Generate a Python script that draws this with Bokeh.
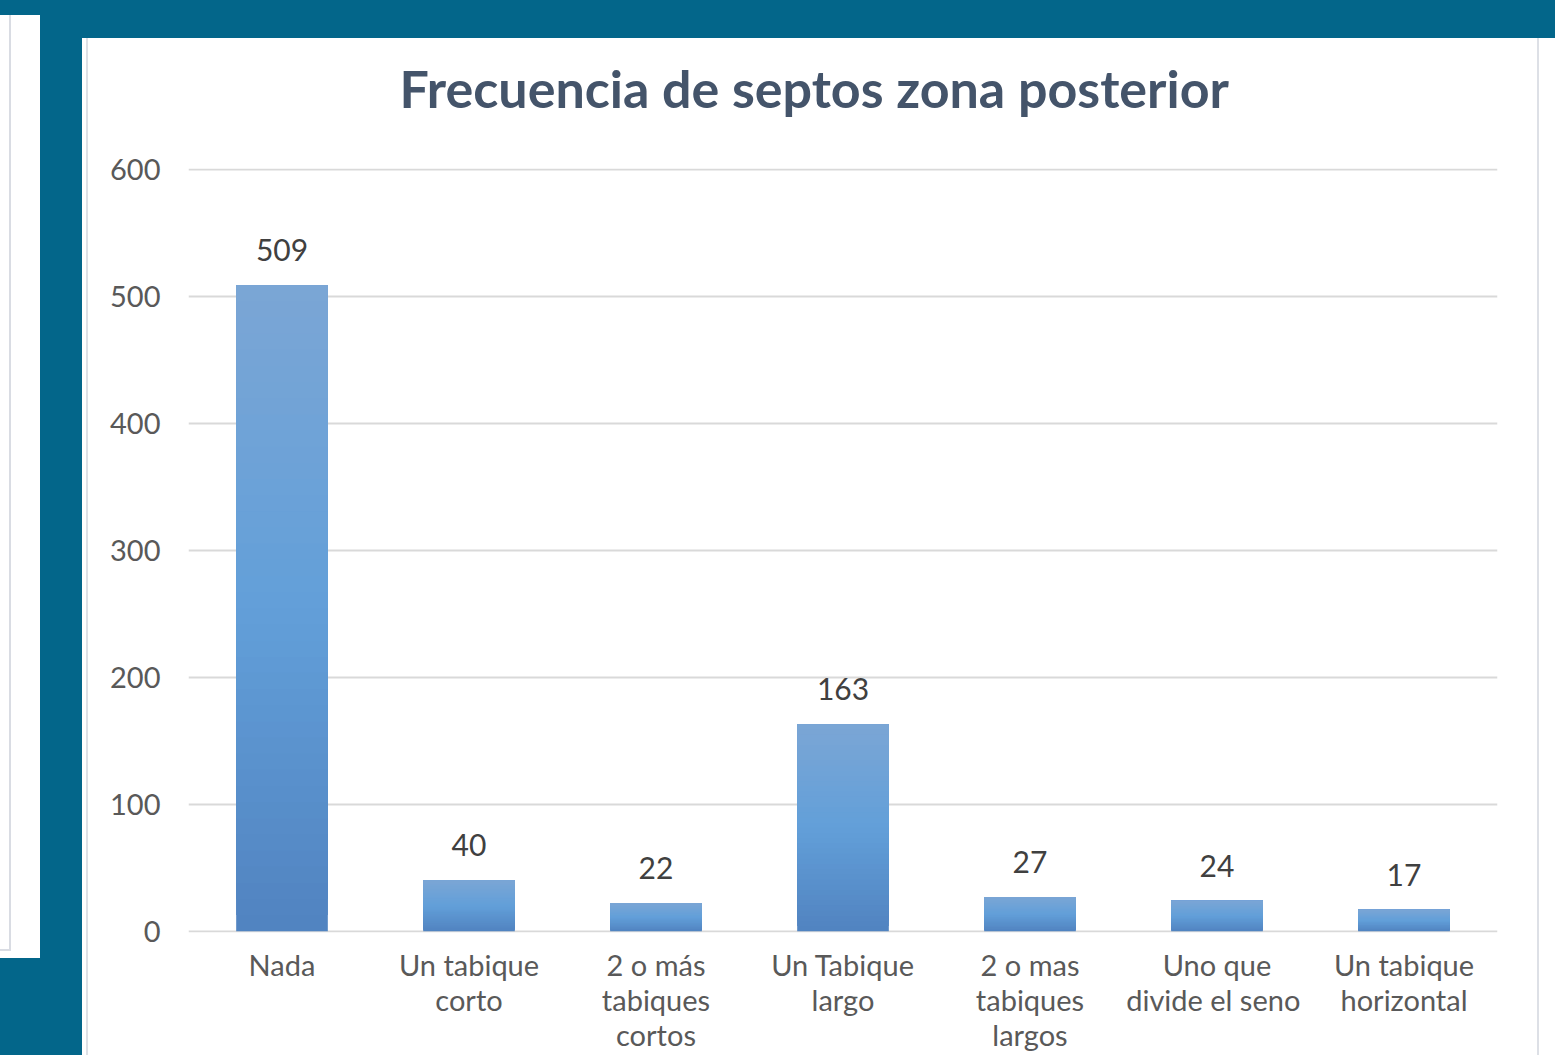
from bokeh.plotting import figure
from bokeh.models import FactorRange, Range1d
from bokeh.core.properties import value
from bokeh.embed import file_html
from bokeh.resources import INLINE

categories = ["Nada", "Un tabique\ncorto", "2 o más\ntabiques\ncortos", "Un Tabique\nlargo",
              "2 o mas\ntabiques\nlargos", "Uno que\ndivide el  seno", "Un tabique\nhorizontal"]
values = [509, 40, 22, 163, 27, 24, 17]
y_ticks = [0, 100, 200, 300, 400, 500, 600]
title_text = "Frecuencia de septos zona posterior"

TEAL = "#03668A"
W, H = 1555, 1055

p = figure(width=W, height=H, x_range=FactorRange(*categories, range_padding=0),
           y_range=Range1d(-1, 601), output_backend="svg", toolbar_location=None,
           min_border_left=188, min_border_right=58, min_border_top=168, min_border_bottom=123,
           title=title_text)
p.border_fill_alpha = 0
p.background_fill_alpha = 0
p.outline_line_color = None

p.title.align = "left"
p.title.offset = 211
p.title.standoff = 99
p.title.text_font = "Lato"
p.title.text_font_style = "bold"
p.title.text_font_size = "52px"
p.title.text_color = "#44546A"

# gradient bars: each slice spans from its start to the bar top, later slices cover earlier ones
def lerp(c1, c2, t):
    a = [int(c1[i:i + 2], 16) for i in (1, 3, 5)]
    b = [int(c2[i:i + 2], 16) for i in (1, 3, 5)]
    return "#%02x%02x%02x" % tuple(round(a[k] + (b[k] - a[k]) * t) for k in range(3))

c_bot, c_mid, c_top = "#5183C0", "#629FD9", "#7BA6D5"
N = 40
xs, bots, tops, cols = [], [], [], []
for i in range(N):
    t = (i + 0.5) / N
    col = lerp(c_bot, c_mid, t * 2) if t < 0.5 else lerp(c_mid, c_top, (t - 0.5) * 2)
    for cat, v in zip(categories, values):
        xs.append(cat)
        bots.append(v * i / N)
        tops.append(v)
        cols.append(col)
p.vbar(x=xs, bottom=bots, top=tops, width=0.49, fill_color=cols, line_color=None)

p.text(x=categories, y=values, text=[str(v) for v in values], y_offset=-35,
       text_align="center", text_baseline="middle", text_font=value("Lato"),
       text_font_size="30px", text_color="#404040")

p.xgrid.grid_line_color = None
p.ygrid.grid_line_color = "#D9D9D9"
p.ygrid.grid_line_width = 2
p.yaxis.ticker = y_ticks
p.yaxis.axis_line_color = None
p.yaxis.major_tick_line_color = None
p.yaxis.minor_tick_line_color = None
p.yaxis.major_tick_out = 0
p.yaxis.minor_tick_out = 0
p.yaxis.major_label_standoff = 28
p.yaxis.major_label_text_font = "Lato"
p.yaxis.major_label_text_font_size = "29px"
p.yaxis.major_label_text_color = "#595959"

p.xaxis.axis_line_color = None
p.xaxis.major_tick_line_color = None
p.xaxis.major_tick_out = 0
p.xaxis.major_label_standoff = 14
p.xaxis.major_label_text_font = "Lato"
p.xaxis.major_label_text_font_size = "29px"
p.xaxis.major_label_text_color = "#595959"
p.xaxis.major_label_text_line_height = 1.0

html = file_html(p, INLINE)
css = ("<style>html{background:%s !important;overflow:hidden;} body{background:transparent !important;overflow:hidden;}"
       ".pnl{position:absolute;z-index:-1;box-sizing:border-box;}</style>" % TEAL)
divs = (
    '<div class="pnl" style="left:0;top:15px;width:40px;height:943px;background:#fff"></div>'
    '<div class="pnl" style="left:-4px;top:15px;width:15px;height:936px;'
    'border-right:2px solid #D9DCE3;border-bottom:2px solid #D9DCE3"></div>'
    '<div class="pnl" style="left:82px;top:38px;width:1473px;height:1017px;background:#fff"></div>'
    '<div class="pnl" style="left:86px;top:38px;width:1453px;height:1017px;'
    'border-left:2px solid #DDE0E6;border-right:2px solid #DDE0E6"></div>'
)
i_head = html.find("</head>")
html = html[:i_head] + css + html[i_head:]
i_body = html.rfind("</body>")
html = html[:i_body] + divs + html[i_body:]
open("out.html", "w").write(html)
